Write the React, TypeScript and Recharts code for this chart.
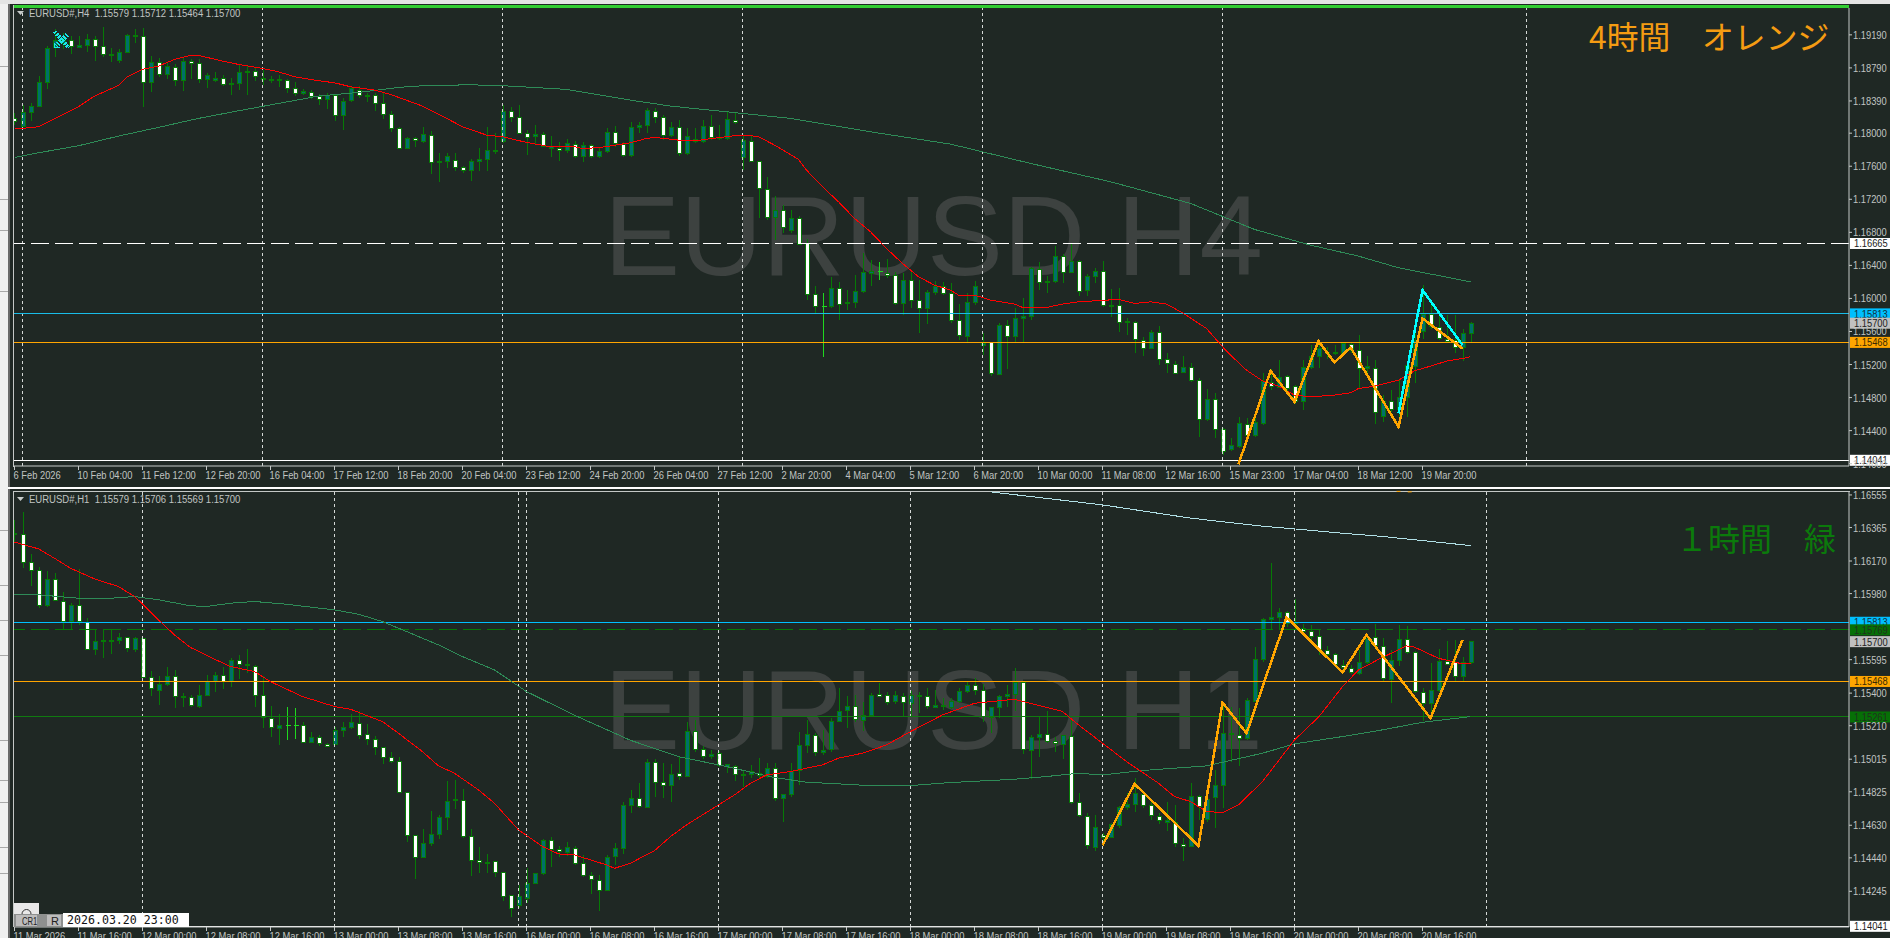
import { ComposedChart, Bar, Line, XAxis, YAxis, ReferenceLine, ReferenceDot } from 'recharts'

// prices are kept in points: 118239 = 1.18239
const h4High = [118239,118340,118368,118691,119054,119256,119208,119175,119175,119199,119175,119280,119026,119022,119199,119256,119268,118933,118905,118865,118836,118905,118893,118893,118723,118735,118707,118663,118836,118812,118792,118764,118691,118699,118651,118622,118530,118522,118469,118489,118473,118421,118570,118570,118489,118481,118481,118271,118078,117957,117949,118078,118025,117755,117755,117755,117606,117682,117815,118078,117997,118340,118312,118340,118037,118098,118009,117965,117896,117924,117908,117896,117868,117815,118058,118086,117896,118138,118138,118300,118300,118219,118138,118158,118058,118058,118158,118219,118098,118259,118247,117977,117965,117654,117472,117238,117129,117069,116996,116714,116149,116060,116254,116201,116100,116282,116544,116464,116444,116472,116322,116302,116322,116222,116100,116214,116201,116181,115931,116060,116209,115576,115475,115705,115737,115879,116000,116383,116444,116270,116633,116536,116653,116464,116294,116371,116452,116109,116121,115758,115729,115536,115616,115665,115334,115241,115302,115221,115031,114906,114850,114426,114305,114559,114547,114567,115092,115152,115253,115072,114950,115253,115435,115495,115414,115435,115475,115475,115556,115302,115253,114830,114890,115011,115193,115737,116161,115980,115818,115798,115798,115636,115712]
const h4Top = [118179,118247,118328,118614,119026,119127,119135,119119,119062,119135,119131,119050,118957,118978,119183,119187,119167,118856,118852,118812,118792,118869,118869,118840,118699,118663,118659,118602,118735,118752,118743,118663,118651,118647,118635,118538,118505,118497,118445,118461,118457,118384,118542,118513,118461,118453,118356,118231,118058,117937,117932,117985,117977,117658,117719,117666,117581,117658,117682,117791,117791,118263,118263,118191,117997,117985,117981,117836,117811,117872,117868,117848,117848,117779,118009,118005,117864,118070,118094,118271,118259,118191,118070,118070,117965,117924,118086,118078,117949,118166,118158,117908,117904,117654,117323,117065,117061,116968,116964,116665,116044,115907,116117,116117,115955,116080,116310,116322,116322,116306,116274,116214,116214,115971,116072,116149,116141,116056,115737,115947,116141,115455,115463,115673,115669,115758,115778,116363,116347,116205,116504,116504,116444,116444,116266,116327,116322,115919,115911,115721,115713,115495,115584,115584,115257,115205,115160,115160,115003,114777,114773,114418,114216,114487,114478,114495,114991,114983,115043,115052,114930,115160,115294,115394,115350,115350,115455,115447,115374,115173,115148,114749,114749,114801,115185,115495,115810,115806,115649,115507,115487,115576,115700]
const h4Bottom = [118138,118086,118247,118320,118610,119038,119086,119054,119042,119058,119050,118953,118937,118877,118973,119167,118614,118610,118711,118707,118639,118639,118844,118651,118647,118635,118590,118586,118602,118735,118687,118651,118643,118639,118546,118481,118481,118445,118409,118404,118215,118211,118392,118457,118453,118360,118227,118058,117815,117815,117912,117904,117646,117642,117654,117589,117549,117545,117658,117678,117779,117896,118191,117997,117949,117957,117844,117819,117791,117791,117719,117715,117719,117715,117775,117876,117731,117731,118066,118094,118191,117969,117969,117755,117751,117896,117900,117949,117932,117932,118134,117706,117662,117335,116980,116980,116863,116819,116657,116052,115907,115907,115903,115931,115935,115951,116080,116302,116322,116282,115939,115939,115980,115879,115879,116068,116064,115729,115556,115536,115947,115435,115092,115084,115544,115536,115758,115778,116197,116189,116201,116314,116310,116088,116092,116262,115919,115911,115713,115705,115503,115394,115394,115261,115217,115092,115100,115011,114539,114535,114414,114152,114172,114212,114345,114345,114487,114930,114918,114910,114749,114749,115160,115294,115334,115334,115334,115374,115156,115152,114620,114567,114656,114656,114801,115173,115596,115665,115515,115483,115407,115403,115579]
const h4Low = [118098,118078,118150,118312,118538,118925,119014,118957,119026,118986,118873,118917,118860,118852,118973,119095,118320,118497,118675,118651,118570,118509,118651,118602,118550,118622,118570,118461,118522,118461,118635,118582,118602,118562,118481,118449,118461,118409,118340,118288,118150,118037,118380,118421,118380,118271,118166,118017,117815,117811,117828,117884,117505,117412,117581,117541,117513,117424,117545,117541,117747,117876,118138,117997,117735,117856,117828,117715,117666,117755,117694,117654,117702,117702,117763,117836,117706,117715,118005,117997,118118,117916,117949,117723,117735,117876,117884,117916,117916,117916,118110,117553,117654,116968,116948,116706,116787,116795,116645,115980,115818,115294,115879,115737,115858,115879,116060,116149,116222,116242,115919,115798,115879,115584,115689,116040,116040,115705,115495,115455,115919,115314,115064,115084,115152,115475,115475,115737,116100,116068,116189,116189,116302,116028,116028,116181,115899,115770,115596,115556,115334,115302,115382,115193,115100,115084,115092,114991,114325,114519,114305,114103,114156,114184,114305,114325,114466,114890,114910,114870,114721,114648,115152,115164,115273,115314,115314,115334,114910,115072,114478,114507,114628,114426,114567,114979,115503,115636,115495,115475,115334,115245,115464]
const h4Bull = [0,1,1,1,1,1,1,0,1,1,0,0,1,1,1,1,0,1,0,1,0,1,0,0,1,1,0,1,1,1,0,1,1,1,0,0,1,0,0,1,0,1,1,0,1,0,0,0,0,1,0,1,0,1,1,0,0,1,1,1,1,1,0,0,0,1,0,1,0,1,0,1,0,1,1,0,0,1,1,1,0,0,1,0,1,1,1,0,1,1,0,1,0,0,0,1,0,1,0,0,0,1,1,0,1,1,1,1,1,0,0,1,0,0,1,1,0,0,0,1,1,1,0,1,0,1,1,1,0,1,1,0,1,0,1,1,0,1,0,1,0,0,1,0,0,0,1,0,0,1,0,0,1,1,0,1,1,0,1,0,0,1,1,1,1,1,1,0,0,1,0,1,0,1,1,1,1,0,0,0,0,1,1]

const h4RedBars = [-1,0,2,7,9,12,13,15,17,19,21,22,25,27,30,32,34,37,39,41,44,46,50,52,55,58,60,63,66,69,70,72,76,78,79,82,84,87,89,91,92,94,97,98,100,102,104,106,108,110,112,114,116,117,119,121,124,125,128,130,132,134,137,139,141,143,145,148,150,151,153,155,157,159,161,164,166,167,169,172,174,176,178,180,181]
const h4RedVals = [118058,118058,118078,118320,118449,118578,118675,118772,118812,118893,118941,118941,118873,118832,118784,118743,118683,118635,118610,118562,118522,118469,118328,118231,118078,117977,117957,117888,117836,117836,117815,117824,117884,117937,117949,117916,117908,117945,117969,117969,117957,117856,117682,117553,117351,117170,116968,116807,116605,116423,116262,116161,116100,116040,116040,115980,115931,115891,115891,115931,115959,115971,115988,115939,115959,115931,115826,115636,115415,115314,115132,115003,114938,114830,114809,114830,114858,114910,114938,115011,115124,115181,115241,115273,115294]
const h4GreenBars = [-1,2,7,12,17,22,27,32,37,42,47,50,56,61,68,76,81,88,96,106,116,126,136,146,154,161,167,172,181]
const h4GreenVals = [117706,117763,117848,117965,118070,118179,118271,118360,118449,118493,118554,118574,118586,118570,118530,118400,118328,118259,118179,118017,117868,117634,117412,117150,116835,116645,116512,116371,116201]
const h4OrangeBars = [152,156,159,162,164,166,172,175,180]
const h4OrangeVals = [113994,115124,114749,115483,115225,115407,114446,115758,115394]
const h4CyanBars = [172,175,180]
const h4CyanVals = [114608,116101,115435]

const h1High = [116410,116453,116212,116134,116113,116099,115992,115924,116124,115837,115765,115765,115765,115753,115726,115726,115720,115530,115497,115551,115532,115399,115390,115448,115506,115526,115555,115603,115623,115658,115565,115497,115326,115279,115318,115312,115234,115176,115155,115112,115205,115234,115277,115293,115219,115153,115085,115059,115026,114826,114574,114607,114714,114690,114885,114894,114842,114607,114506,114463,114422,114360,114220,114282,114379,114350,114548,114560,114510,114533,114510,114457,114360,114341,114457,114525,114768,114836,114875,115015,115015,114995,114988,115030,115234,115244,115089,115069,115065,114982,114982,114953,114982,115021,114991,114991,114811,114995,115176,115244,115166,115186,115254,115429,115384,115390,115351,115399,115458,115409,115415,115399,115415,115409,115429,115419,115370,115370,115429,115467,115487,115454,115322,115390,115448,115545,115462,115157,115263,115293,115147,115157,115254,114820,114700,114690,114583,114642,114743,114820,114904,114826,114768,114700,114768,114749,114554,114875,114807,114807,114953,115341,115322,115312,115370,115668,115837,116157,115895,115881,115947,115804,115798,115765,115675,115636,115594,115565,115652,115739,115804,115720,115652,115798,115792,115648,115429,115574,115658,115701,115710,115613,115706]
const h1Top = [116330,116326,116163,116116,116064,116064,115934,115912,115910,115813,115703,115708,115708,115726,115724,115720,115718,115491,115452,115499,115497,115382,115374,115386,115467,115504,115502,115592,115590,115568,115555,115386,115252,115213,115213,115213,115209,115143,115143,115100,115184,115201,115230,115225,115159,115129,115083,115024,115001,114820,114572,114525,114578,114677,114768,114778,114774,114564,114424,114414,114418,114354,114218,114214,114292,114350,114543,114541,114488,114502,114494,114405,114337,114307,114444,114496,114747,114787,114785,114997,114995,114879,114927,114931,115178,115176,115073,115044,115048,114982,114972,114925,114941,114933,114962,114960,114811,114943,115094,115160,115153,115067,115234,115293,115324,115322,115269,115388,115392,115386,115388,115380,115386,115388,115380,115330,115328,115353,115409,115446,115444,115415,115316,115382,115394,115462,115462,115143,115160,115159,115118,115151,115147,114762,114681,114618,114568,114632,114735,114752,114813,114807,114743,114681,114657,114646,114517,114797,114797,114778,114863,115166,115166,115151,115355,115598,115831,115842,115872,115870,115811,115774,115757,115730,115648,115627,115559,115541,115580,115720,115724,115671,115588,115710,115710,115636,115403,115417,115586,115584,115578,115578,115700]
const h1Bottom = [116322,116163,116116,115912,115912,115942,115819,115817,115815,115656,115654,115701,115701,115706,115662,115656,115491,115425,115415,115450,115382,115374,115326,115322,115386,115467,115469,115466,115568,115559,115388,115256,115201,115194,115213,115213,115114,115112,115108,115091,115098,115182,115199,115153,115131,115085,115026,115003,114820,114572,114444,114444,114523,114576,114677,114772,114564,114426,114414,114411,114356,114214,114146,114162,114203,114290,114346,114490,114475,114471,114409,114339,114311,114251,114251,114445,114494,114747,114737,114733,114881,114863,114861,114916,114914,115073,115030,115028,114980,114972,114923,114920,114925,114918,114914,114787,114787,114811,114947,115094,115056,115056,115069,115236,115298,115244,115240,115269,115380,115347,115351,115343,115341,115380,115320,115316,115320,115318,115353,115409,115417,115262,115260,115316,115380,115394,115069,115065,115141,115120,115104,115098,114762,114688,114510,114502,114560,114560,114630,114731,114750,114743,114684,114655,114646,114521,114506,114506,114739,114661,114793,114863,115159,115137,115135,115353,115594,115829,115841,115804,115804,115759,115730,115656,115627,115568,115551,115518,115516,115580,115677,115483,115477,115588,115638,115407,115341,115341,115417,115568,115497,115497,115579]
const h1Low = [116274,116128,116025,115895,115901,115940,115765,115765,115798,115652,115623,115602,115629,115687,115642,115642,115487,115384,115331,115442,115312,115322,115318,115312,115384,115409,115423,115435,115481,115520,115318,115194,115143,115098,115124,115131,115112,115108,115089,115085,115096,115143,115190,115135,115098,115038,114988,114991,114817,114535,114317,114440,114510,114548,114603,114723,114554,114335,114350,114354,114327,114191,114098,114146,114179,114288,114342,114389,114444,114451,114399,114327,114230,114133,114249,114399,114463,114700,114729,114729,114797,114787,114768,114894,114914,115059,115015,115015,114968,114933,114885,114855,114904,114904,114904,114774,114651,114793,114865,115050,115034,115040,115059,115229,115195,115234,115182,115263,115376,115331,115337,115263,115263,115283,115310,115312,115302,115306,115345,115399,115390,115229,115166,115254,115322,115293,115046,114898,115030,115108,115059,115017,114754,114677,114490,114480,114515,114554,114613,114719,114710,114729,114661,114638,114599,114506,114424,114506,114661,114651,114613,114729,115001,114976,115127,115351,115584,115769,115769,115788,115769,115749,115710,115623,115613,115555,115520,115512,115506,115570,115662,115467,115345,115559,115629,115399,115240,115254,115409,115565,115467,115467,115569]
const h1Bull = [1,0,0,0,1,0,0,1,0,0,1,1,1,1,0,1,0,0,1,1,0,1,0,1,1,1,0,1,0,0,0,0,0,1,1,1,0,1,0,0,1,1,1,0,0,0,0,0,0,0,0,1,1,1,1,1,0,0,0,1,0,0,0,1,1,1,1,0,0,1,0,0,0,0,1,1,1,1,0,1,0,0,1,0,1,0,0,1,0,1,0,1,1,0,1,0,1,1,1,1,0,1,1,1,1,0,1,1,0,0,1,0,1,1,0,1,0,1,1,1,0,0,1,1,1,1,0,1,1,0,0,1,0,0,0,1,0,1,1,1,1,0,0,0,1,0,0,1,0,1,1,1,1,0,1,1,1,1,1,0,1,0,0,0,0,0,0,0,1,1,0,0,1,1,0,0,0,1,1,0,0,1,1]

const h1RedBars = [-1,2,4,6,9,12,14,15,17,19,21,24,26,29,31,35,39,41,45,47,50,52,54,57,59,62,65,67,69,73,74,76,79,81,83,89,91,93,96,100,102,105,108,111,115,119,124,130,132,135,138,142,144,146,148,150,152,155,159,162,165,167,170,172,173,174,177,180,181]
const h1RedVals = [116280,116241,116186,116128,116066,116021,115963,115920,115827,115739,115666,115598,115555,115526,115467,115380,115322,115306,115234,115166,115059,114976,114933,114836,114758,114603,114506,114463,114457,114399,114379,114409,114482,114564,114632,114807,114875,114923,114943,114982,115021,115050,115098,115176,115273,115341,115364,115293,115215,115108,115001,114875,114797,114768,114710,114704,114749,114885,115127,115260,115438,115535,115609,115652,115675,115668,115603,115570,115570]
const h1GreenBars = [-1,2,7,11,14,17,21,23,26,29,33,39,42,45,48,52,55,59,63,69,76,82,88,94,98,106,111,116,124,128,132,135,140,148,155,159,165,170,175,181]
const h1GreenVals = [115977,115973,115953,115953,115963,115944,115909,115905,115924,115934,115918,115885,115860,115817,115759,115681,115613,115535,115409,115271,115125,115030,114972,114908,114881,114861,114861,114879,114898,114914,114933,114923,114949,114976,115050,115104,115147,115186,115230,115263]
const h1BlueBars = [121,135,146,155,159,165,170,175,181]
const h1BlueVals = [116573,116497,116420,116373,116357,116332,116313,116289,116260]
const h1OrangeBars = [135,139,147,150,153,158,165,168,176,180]
const h1OrangeVals = [114512,114871,114510,115345,115166,115842,115520,115739,115254,115710]
const h1OrangeStubBars = [172,173.4]
const h1OrangeStubVals = [116573,116570]

const h4Ticks = [119190,118790,118390,118000,117600,117200,116800,116400,116000,115600,115200,114800,114400,114000]
const h1Ticks = [116555,116365,116170,115980,115595,115400,115210,115015,114825,114630,114440,114245]

const h4Times = ['6 Feb 2026','10 Feb 04:00','11 Feb 12:00','12 Feb 20:00','16 Feb 04:00','17 Feb 12:00','18 Feb 20:00','20 Feb 04:00','23 Feb 12:00','24 Feb 20:00','26 Feb 04:00','27 Feb 12:00','2 Mar 20:00','4 Mar 04:00','5 Mar 12:00','6 Mar 20:00','10 Mar 00:00','11 Mar 08:00','12 Mar 16:00','15 Mar 23:00','17 Mar 04:00','18 Mar 12:00','19 Mar 20:00']
const h1Times = ['11 Mar 2026','11 Mar 16:00','12 Mar 00:00','12 Mar 08:00','12 Mar 16:00','13 Mar 00:00','13 Mar 08:00','13 Mar 16:00','16 Mar 00:00','16 Mar 08:00','16 Mar 16:00','17 Mar 00:00','17 Mar 08:00','17 Mar 16:00','18 Mar 00:00','18 Mar 08:00','18 Mar 16:00','19 Mar 00:00','19 Mar 08:00','19 Mar 16:00','20 Mar 00:00','20 Mar 08:00','20 Mar 16:00']

const h4Periods = [0,30,60,90,120,150,188]
const h1Periods = [15,39,62,63,87,111,135,159,183]

const BG = '#1f2824'
const FRAME = '#c4c8c6'
const TEXT = '#c0c4c2'
const FONT = '"Liberation Sans", Arial, sans-serif'

const pick = (bars: number[], vals: number[]) =>
  new Map(bars.map((b, i) => [b, vals[i]]))

function buildRows(high, top, bottom, low, bull, lines) {
  const maps = Object.keys(lines).map(name => [name, pick(lines[name][0], lines[name][1])] as const)
  return high.map((h, i) => {
    const k = i - 1
    const row: any = { k, high: h, top: top[i], bottom: bottom[i], low: low[i], bull: bull[i] }
    maps.forEach(([name, m]) => { row[name] = m.has(k) ? m.get(k) : null })
    return row
  })
}

const h4Rows = buildRows(h4High, h4Top, h4Bottom, h4Low, h4Bull, {
  red: [h4RedBars, h4RedVals],
  green: [h4GreenBars, h4GreenVals],
  orange: [h4OrangeBars, h4OrangeVals],
  cyan: [h4CyanBars, h4CyanVals],
})
const h1Rows = buildRows(h1High, h1Top, h1Bottom, h1Low, h1Bull, {
  red: [h1RedBars, h1RedVals],
  green: [h1GreenBars, h1GreenVals],
  blue: [h1BlueBars, h1BlueVals],
  orange: [h1OrangeBars, h1OrangeVals],
})

function Candle(props: any) {
  const { x, y, width, height, payload } = props
  const { high, low, top, bottom, bull } = payload
  const perPoint = high > low ? height / (high - low) : 0
  const cx = Math.floor(x + width / 2) + 0.5
  const y1 = y + (high - top) * perPoint
  const y2 = y + (high - bottom) * perPoint
  const doji = top === bottom
  return (
    <g shapeRendering="crispEdges">
      <line x1={cx} x2={cx} y1={y} y2={y + height} stroke={doji ? '#1fd81f' : '#067a06'} />
      {doji ? (
        <line x1={cx - 2} x2={cx + 3} y1={y1} y2={y1} stroke="#1fd81f" />
      ) : (
        <rect
          x={cx - 2}
          y={y1}
          width={4}
          height={Math.max(y2 - y1, 1)}
          fill={bull ? '#00706a' : '#ffffff'}
          stroke="#067a06"
        />
      )}
    </g>
  )
}

// the platform's axis font is narrower than anything installed, so squeeze it
function Narrow({ x, y, value, fill, squeeze = 0.85 }: any) {
  return (
    <text
      transform={`translate(${x} ${y}) scale(${squeeze} 1)`}
      fontSize={11}
      fontFamily={FONT}
      fill={fill}
      xmlSpace="preserve"
    >
      {value}
    </text>
  )
}

function TimeTick(props: any) {
  const { x, y, payload, labels } = props
  return <Narrow x={x - 1} y={y + 9} fill={TEXT} value={labels[(payload.value + 1) / 8]} />
}

function PriceTick(props: any) {
  const { x, y, payload } = props
  return <Narrow x={x + 1} y={y + 4} fill={TEXT} value={(payload.value / 100000).toFixed(5)} />
}

function PriceTag(props: any) {
  const { viewBox, price, bg, fg } = props
  const left = viewBox.x + viewBox.width + 1
  return (
    <g>
      <rect x={left} y={viewBox.y - 5.5} width={41} height={11} fill={bg} />
      <Narrow x={left + 4} y={viewBox.y + 4} fill={fg} value={(price / 100000).toFixed(5)} />
    </g>
  )
}

function CrossMark(props: any) {
  const { cx, cy } = props
  return (
    <g stroke="#18e8e8" fill="none" shapeRendering="crispEdges">
      <path d={`M${cx - 7} ${cy - 8}L${cx + 7} ${cy + 8}`} strokeWidth={4} strokeDasharray="2 1" />
      <path d={`M${cx + 6} ${cy - 5}L${cx - 5} ${cy + 6}`} strokeWidth={5} strokeDasharray="2 1" />
      <path d={`M${cx - 7} ${cy + 3}V${cy + 8}H${cx - 2}`} strokeWidth={1} />
    </g>
  )
}

function OrangeStub(props: any) {
  const { cx, cy } = props
  return <rect x={cx - 2} y={cy - 1} width={4} height={1} fill="#ffa500" />
}

function Panel({ rows, top, height, margin, axisHeight, domain, yTicks, times, periods, levels, tags, children }: any) {
  const xTicks = times.map((_, i) => i * 8 - 1)
  return (
    <div style={{ position: 'absolute', left: 0, top }}>
      <ComposedChart width={1890} height={height} data={rows} margin={{ top: margin, right: 0, bottom: 0, left: 14 }}>
        <XAxis
          dataKey="k"
          type="number"
          domain={[-1.0625, 228.31]}
          allowDataOverflow
          ticks={xTicks}
          interval={0}
          height={axisHeight}
          tickSize={4}
          tickMargin={0}
          stroke={FRAME}
          tick={<TimeTick labels={times} />}
        />
        <YAxis
          orientation="right"
          type="number"
          domain={domain}
          allowDataOverflow
          ticks={yTicks}
          interval={0}
          width={41}
          tickSize={3}
          tickMargin={0}
          stroke={FRAME}
          tick={<PriceTick />}
        />
        {periods.map(k => (
          <ReferenceLine key={k} x={k} stroke="#d4d8d6" strokeDasharray="3 3" shapeRendering="crispEdges" />
        ))}
        <Bar dataKey={(d: any) => [d.low, d.high]} barSize={5} shape={<Candle />} isAnimationActive={false} />
        {levels.map(l => (
          <ReferenceLine
            key={l.price}
            y={l.price}
            stroke={l.color}
            strokeDasharray={l.dash}
            shapeRendering="crispEdges"
          />
        ))}
        {children}
        {tags.map(t => (
          <ReferenceLine
            key={t.price}
            y={t.price}
            stroke="none"
            label={<PriceTag price={t.price} bg={t.bg} fg={t.fg} />}
          />
        ))}
      </ComposedChart>
    </div>
  )
}

const line = (key: string, color: string, width = 1) => (
  <Line
    key={key}
    dataKey={key}
    stroke={color}
    strokeWidth={width}
    dot={false}
    activeDot={false}
    connectNulls
    type="linear"
    shapeRendering="crispEdges"
    isAnimationActive={false}
  />
)

const stripLines = [66, 199, 230, 291, 530, 585, 620, 655, 740, 780, 802, 847, 873]

export default function App() {
  return (
    <div style={{ position: 'absolute', left: 0, top: 0, width: 1890, height: 938, overflow: 'hidden', background: BG }}>
      {/* window chrome */}
      <div style={{ position: 'absolute', left: 0, top: 0, width: 8, height: 938, background: '#f0f0f0' }} />
      <div style={{ position: 'absolute', left: 8, top: 0, width: 2, height: 938, background: '#6a6a6a' }} />
      {stripLines.map(y => (
        <div key={y} style={{ position: 'absolute', left: 0, top: y, width: 8, height: 1, background: '#a8a8a8' }} />
      ))}
      <div style={{ position: 'absolute', left: 0, top: 0, width: 1890, height: 4, background: '#e4e4e4' }} />
      <div style={{ position: 'absolute', left: 14, top: 5, width: 1835, height: 3, background: '#32cd32' }} />
      <div style={{ position: 'absolute', left: 13, top: 5, width: 1, height: 462, background: FRAME }} />
      <div style={{ position: 'absolute', left: 8, top: 487, width: 1882, height: 2, background: '#ffffff' }} />
      <div style={{ position: 'absolute', left: 13, top: 491, width: 1837, height: 1, background: FRAME }} />
      <div style={{ position: 'absolute', left: 13, top: 491, width: 1, height: 436, background: FRAME }} />

      {/* watermarks, legends and captions sit behind the charts */}
      <svg width={1890} height={938} style={{ position: 'absolute', left: 0, top: 0 }}>
        <text x={604} y={275} fontSize={114} fontFamily={FONT} fill="#3d4240">EURUSD H4</text>
        <text x={604} y={749} fontSize={114} fontFamily={FONT} fill="#3d4240">EURUSD H1</text>
        <polygon points="17,11 24,11 20.5,15" fill="#c8ccca" />
        <polygon points="17,497 24,497 20.5,501" fill="#c8ccca" />
        <Narrow x={29} y={16.5} fill={TEXT} squeeze={0.867} value="EURUSD#,H4  1.15579 1.15712 1.15464 1.15700" />
        <Narrow x={29} y={503} fill={TEXT} squeeze={0.867} value="EURUSD#,H1  1.15579 1.15706 1.15569 1.15700" />
        <text x={1589} y={49} fontSize={31.8} fontFamily={'"Noto Sans CJK JP"'} fill="#f59c12">4時間　オレンジ</text>
        <text x={1676} y={551} fontSize={32} fontFamily={'"Noto Sans CJK JP"'} fill="#0b7a0b">１時間　緑</text>
      </svg>

      <Panel
        rows={h4Rows}
        top={0}
        height={484}
        margin={8}
        axisHeight={18}
        domain={[113972, 119515]}
        yTicks={h4Ticks}
        times={h4Times}
        periods={h4Periods}
        levels={[
          { price: 116665, color: '#ffffff', dash: '18 6' },
          { price: 115813, color: '#19bde8' },
          { price: 115468, color: '#ffa500' },
          { price: 114041, color: '#ffffff' },
        ]}
        tags={[
          { price: 116665, bg: '#ffffff', fg: '#222' },
          { price: 115813, bg: '#00bfff', fg: '#12303a' },
          { price: 115700, bg: '#c0c0c0', fg: '#222' },
          { price: 115468, bg: '#ffa500', fg: '#3a2a00' },
          { price: 114041, bg: '#ffffff', fg: '#222' },
        ]}
      >
        {line('green', '#2e8b57')}
        {line('red', '#ff0000')}
        {line('cyan', '#00ffff', 2.5)}
        {line('orange', '#ffa500', 2.5)}
        <ReferenceDot x={4.875} y={119133} r={1} shape={<CrossMark />} />
      </Panel>

      <Panel
        rows={h1Rows}
        top={484}
        height={454}
        margin={7}
        axisHeight={11}
        domain={[114037, 116578]}
        yTicks={h1Ticks}
        times={h1Times}
        periods={h1Periods}
        levels={[
          { price: 115813, color: '#00bfff' },
          { price: 115769, color: '#067a06', dash: '18 6' },
          { price: 115468, color: '#ffa500' },
          { price: 115261, color: '#107a10' },
          { price: 114041, color: '#ffffff' },
        ]}
        tags={[
          { price: 115813, bg: '#00bfff', fg: '#12303a' },
          { price: 115769, bg: '#067006', fg: '#20301f' },
          { price: 115700, bg: '#c0c0c0', fg: '#222' },
          { price: 115468, bg: '#ffa500', fg: '#3a2a00' },
          { price: 115261, bg: '#067006', fg: '#20301f' },
          { price: 114041, bg: '#ffffff', fg: '#222' },
        ]}
      >
        {line('green', '#2e8b57')}
        {line('blue', '#b0e0e6')}
        {line('red', '#ff0000')}
        {line('orange', '#ffa500', 2.5)}
        {h1OrangeStubBars.map((b, i) => (
          <ReferenceDot key={b} x={b} y={h1OrangeStubVals[i]} r={1} shape={<OrangeStub />} />
        ))}
      </Panel>

      {/* MT4 one click widget, bottom left */}
      <svg width={190} height={30} style={{ position: 'absolute', left: 0, top: 900 }}>
        <rect x={14} y={3} width={25} height={12} fill="#e8e8e8" />
        <path d="M22 14a4.5 4.5 0 0 1 9 0" fill="none" stroke="#333" />
        <rect x={14} y={14} width={49} height={13} fill="#8e908f" />
        <rect x={16} y={15} width={21} height={11} fill="#bcbcbc" />
        <rect x={47} y={15} width={14} height={11} fill="#bcbcbc" />
        <Narrow x={22} y={24.5} fill="#222" squeeze={0.7} value="CR1" />
        <text x={51} y={24.5} fontSize={11} fontFamily={FONT} fill="#222">R</text>
        <rect x={63} y={13} width={126} height={14} fill="#ffffff" />
        <text x={67} y={24} fontSize={11.6} fontFamily={'"DejaVu Sans Mono", monospace'} fill="#111">2026.03.20 23:00</text>
      </svg>
    </div>
  )
}
